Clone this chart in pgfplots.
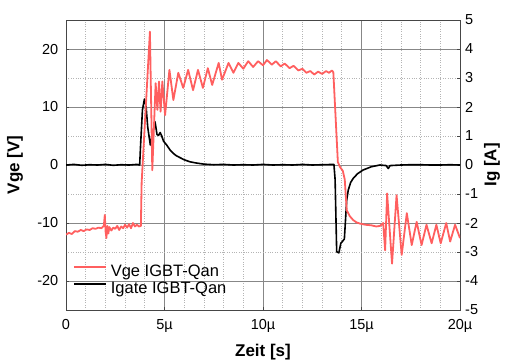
\documentclass[border=0pt]{standalone}
\usepackage{fontspec}
\setmainfont{Liberation Sans}
\usepackage{pgfplots}
\pgfplotsset{compat=1.18}
\definecolor{vred}{RGB}{255,95,95}
\definecolor{majgrid}{RGB}{135,135,135}
\definecolor{mingrid}{RGB}{180,180,180}
\definecolor{frame}{RGB}{70,70,70}

\begin{document}
\begin{tikzpicture}
\path[use as bounding box] (0,0) rectangle (505pt,360pt);
\pgfplotsset{
  base/.style={
    scale only axis, width=394pt, height=290pt,
    at={(66pt,50pt)}, anchor=south west,
    xmin=0, xmax=20,
    axis line style={draw=frame, line width=1pt},
    tick style={draw=frame, line width=0.8pt},
    tick align=inside, major tick length=3pt, minor tick length=0pt,
    tick label style={font=\fontsize{14.5}{16}\selectfont, inner sep=0pt},
  }
}
% grid + left axis
\begin{axis}[base,
  ymin=-25, ymax=25,
  xtick={0,5,10,15,20}, xticklabels={0,5µ,10µ,15µ,20µ},
  minor xtick={1,2,3,4,6,7,8,9,11,12,13,14,16,17,18,19},
  ytick={-20,-10,0,10,20}, yticklabels={-20,-10,0,10,20},
  minor ytick={-15,-5,5,15},
  xtick pos=bottom, ytick pos=left,
  xticklabel shift=9pt, yticklabel shift=7.5pt,
  grid=both,
  major grid style={draw=majgrid, line width=0.8pt},
  minor grid style={draw=mingrid, dotted, line width=0.8pt},
  xlabel={Zeit [s]}, ylabel={Vge [V]},
  every axis x label/.style={at={(axis description cs:0.5,0)}, anchor=center, yshift=-42pt, font=\fontsize{17}{19}\selectfont\bfseries},
  every axis y label/.style={at={(axis description cs:-0.1294,0.5)}, anchor=center, rotate=90, font=\fontsize{17}{19}\selectfont\bfseries},
]
\addplot[draw=none] coordinates {(0,0)};
\end{axis}
% right axis: Igate
\begin{axis}[base,
  ymin=-5, ymax=5,
  axis y line*=right, axis x line=none,
  ytick={-5,-4,-3,-2,-1,0,1,2,3,4,5},
  yticklabels={-5,-4,-3,-2,-1,0,1,2,3,4,5},
  yticklabel shift=5pt,
  ylabel={Ig [A]},
  every axis y label/.style={at={(axis description cs:1.0812,0.5)}, anchor=center, rotate=90, font=\fontsize{17}{19}\selectfont\bfseries},
]
\addplot[black, line width=1.6pt, line join=round] table {
x y
0 0
0.4 0.02
0.8 -0.01
1.2 0.01
1.6 0.0
2.0 0.02
2.4 -0.01
2.8 0.01
3.2 0.0
3.6 0.02
3.74 0.0
3.78 0.6
3.88 1.9
3.98 2.27
4.06 2.05
4.15 1.3
4.28 0.69
4.40 1.1
4.52 1.49
4.62 1.05
4.70 1.02
4.78 1.12
4.86 1.0
4.95 0.82
5.1 0.7
5.28 0.52
5.45 0.4
5.6 0.32
5.8 0.25
6.0 0.18
6.3 0.11
6.6 0.07
7.0 0.03
7.5 0.01
8 0.02
8.5 0.0
9 0.01
9.5 0.0
10 0.02
10.5 0.0
11 0.01
11.5 0.0
12 0.02
12.5 0.0
13 0.01
13.6 0.02
13.66 -0.5
13.74 -2.99
13.85 -3.03
13.95 -2.7
14.05 -2.62
14.13 -2.55
14.25 -1.2
14.33 -0.86
14.45 -0.6
14.58 -0.46
14.8 -0.3
15.09 -0.17
15.5 -0.06
15.94 0.0
16.25 -0.02
16.36 -0.12
16.45 -0.02
17 0.0
17.5 0.01
18 0.01
18.5 0.0
19 0.0
19.5 0.01
20 0.0
};
\end{axis}
% red Vge on top, legend
\begin{axis}[base,
  ymin=-25, ymax=25, hide axis,
  legend style={draw=none, fill=none, inner sep=0pt, outer sep=0pt,
    at={(axis description cs:0.0178,0.1586)}, anchor=north west,
    font=\fontsize{16.5}{18}\selectfont,
    nodes={inner sep=1pt}, row sep=1.5pt, column sep=3pt},
  legend cell align=left,
  legend image code/.code={\draw[#1] (0pt,0.8ex)--(32pt,0.8ex);},
]
\addplot[vred, line width=1.8pt, line join=round] table {
x y
0.00 -12.0
0.15 -11.7
0.3 -11.9
0.45 -11.4
0.6 -11.5
0.75 -11.2
0.9 -11.4
1.05 -11.1
1.2 -11.2
1.35 -10.9
1.5 -11.0
1.65 -10.8
1.8 -10.9
1.92 -10.5
1.97 -8.6
2.01 -11.5
2.05 -12.6
2.1 -10.5
2.15 -11.8
2.2 -10.7
2.3 -11.3
2.4 -10.8
2.5 -11.0
2.6 -10.5
2.7 -11.2
2.8 -10.6
2.9 -10.9
3.0 -10.3
3.1 -10.8
3.2 -10.2
3.3 -10.9
3.4 -10.0
3.5 -10.6
3.6 -10.3
3.7 -10.6
3.80 -10.5
3.84 -3.0
4.26 23.0
4.38 -0.9
4.55 14.1
4.64 9.5
4.72 14.4
4.80 9.2
4.89 14.4
5.03 8.6
5.25 16.4
5.45 11.2
5.70 15.9
5.95 13.3
6.20 16.4
6.45 12.9
6.70 16.4
6.95 13.3
7.20 16.7
7.42 13.8
7.75 17.6
7.92 14.7
8.25 17.6
8.50 15.9
8.75 17.6
9.0 16.6
9.25 17.9
9.5 16.9
9.75 17.9
10.0 17.2
10.2 18.1
10.45 17.3
10.65 17.9
10.9 17.0
11.1 17.5
11.35 16.7
11.55 17.1
11.8 16.3
12.0 16.6
12.2 15.9
12.4 16.2
12.6 15.6
12.8 16.1
13.0 15.7
13.2 16.2
13.35 15.9
13.5 16.3
13.57 16.0
13.80 0.5
13.9 -0.3
14.05 -1.0
14.15 -2.5
14.25 -7.8
14.4 -8.8
14.58 -9.5
14.75 -9.9
14.92 -10.1
15.2 -10.3
15.5 -10.4
15.75 -10.6
15.94 -10.5
16.1 -10.0
16.2 -14.7
16.3 -4.9
16.55 -17.0
16.78 -5.2
17.04 -15.5
17.3 -8.3
17.55 -13.8
17.8 -9.8
18.05 -13.8
18.3 -10.3
18.56 -13.5
18.8 -10.3
19.02 -13.5
19.3 -10.0
19.5 -13.2
19.75 -10.3
20.0 -12.6
};
\addlegendentry{Vge IGBT-Qan}
\addlegendimage{black, line width=1.6pt}
\addlegendentry{Igate IGBT-Qan}
\end{axis}
\end{tikzpicture}
\end{document}
